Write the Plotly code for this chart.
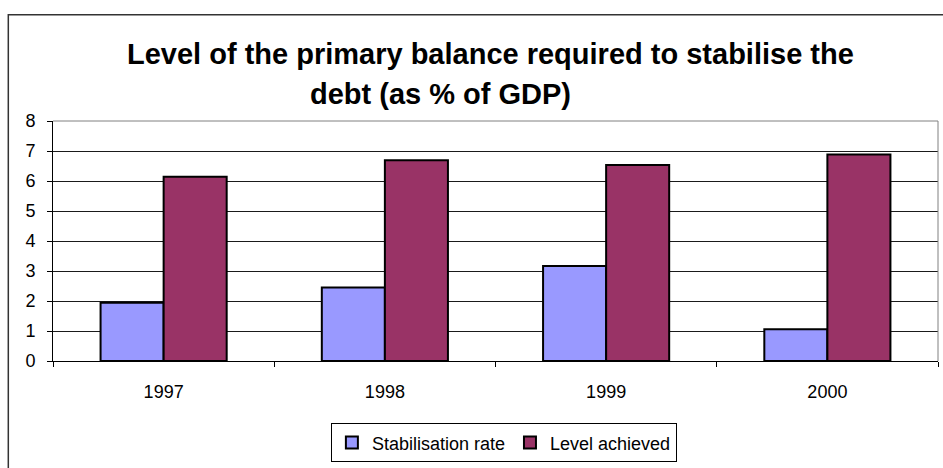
import plotly.graph_objects as go

# Data
years = ["1997", "1998", "1999", "2000"]
stabilisation_rate = [1.94, 2.45, 3.17, 1.06]
level_achieved = [6.14, 6.69, 6.53, 6.88]
y_ticks = [0, 1, 2, 3, 4, 5, 6, 7, 8]
title_line1 = "Level of the primary balance required to stabilise the"
title_line2 = "debt (as % of GDP)"

FONT = "Liberation Sans, Arial, sans-serif"

fig = go.Figure()
fig.add_trace(go.Bar(
    x=years, y=stabilisation_rate, name="Stabilisation rate",
    marker=dict(color="#9999FF", line=dict(color="#000000", width=2)),
))
fig.add_trace(go.Bar(
    x=years, y=level_achieved, name="Level achieved",
    marker=dict(color="#993366", line=dict(color="#000000", width=2)),
))

fig.update_layout(
    width=943, height=468,
    margin=dict(l=53, r=5, t=121, b=100),
    paper_bgcolor="white", plot_bgcolor="white",
    barmode="group", bargap=0.43, bargroupgap=0,
    font=dict(family=FONT, size=18, color="#000000"),
    showlegend=True,
    legend=dict(
        orientation="h", x=0.314, xanchor="left", y=-0.26, yanchor="top",
        bordercolor="#000000", borderwidth=1,
        font=dict(family=FONT, size=18, color="#000000"),
        itemwidth=30, tracegroupgap=0,
    ),
    xaxis=dict(
        type="category", showline=True, linecolor="#000000", linewidth=1,
        ticks="outside", ticklen=5, tickcolor="#000000", tickson="boundaries",
        showgrid=False, ticklabelstandoff=14,
        tickfont=dict(family=FONT, size=18, color="#000000"),
    ),
    yaxis=dict(
        range=[0, 8], tickvals=y_ticks, showline=True, linecolor="#000000", linewidth=1,
        ticks="outside", ticklen=5, tickcolor="#000000",
        showgrid=True, gridcolor="#1a1a1a", gridwidth=1, zeroline=False,
        ticklabelstandoff=8,
        tickfont=dict(family=FONT, size=18, color="#000000"),
    ),
    shapes=[
        # plot-area border (top and right, grey)
        dict(type="path", xref="paper", yref="paper", path="M 0,1 L 1,1 L 1,0",
             line=dict(color="#808080", width=1), layer="above"),
        # outer chart frame
        dict(type="rect", xref="paper", yref="paper", x0=-0.0505, y0=-0.6, x1=1.2, y1=1.443,
             line=dict(color="#333333", width=1.5), fillcolor="rgba(0,0,0,0)", layer="above"),
    ],
    annotations=[
        dict(text="<b>" + title_line1 + "</b>", xref="paper", yref="paper",
             x=0.4949, y=1.2797, xanchor="center", yanchor="middle", showarrow=False,
             font=dict(family=FONT, size=29, color="#000000")),
        dict(text="<b>" + title_line2 + "</b>", xref="paper", yref="paper",
             x=0.4384, y=1.1135, xanchor="center", yanchor="middle", showarrow=False,
             font=dict(family=FONT, size=29, color="#000000")),
    ],
)

fig.write_html("out.html")
